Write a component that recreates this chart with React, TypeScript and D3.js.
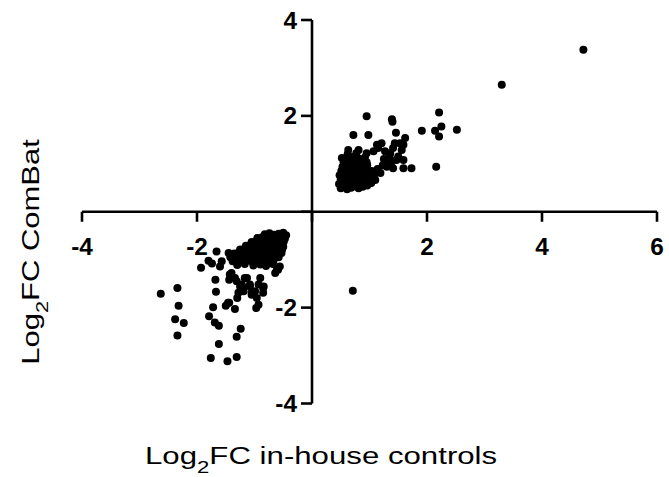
import React from "react";
import * as d3 from "d3";

// Log2FC in-house controls (x) vs Log2FC ComBat (y)
const upPoints: [number, number][] = [
  [0.5, 0.49], [0.56, 0.52], [0.61, 0.47], [0.68, 0.5], [0.74, 0.53], [0.81, 0.49], [0.88, 0.52], [0.96, 0.55],
  [0.47, 0.58], [0.54, 0.6], [0.59, 0.56], [0.66, 0.59], [0.72, 0.62], [0.79, 0.57], [0.86, 0.61], [0.93, 0.63], [1.03, 0.6],
  [0.5, 0.67], [0.57, 0.69], [0.63, 0.65], [0.7, 0.68], [0.77, 0.66], [0.84, 0.7], [0.92, 0.67], [1.01, 0.71], [1.1, 0.66],
  [0.48, 0.76], [0.55, 0.78], [0.61, 0.74], [0.68, 0.77], [0.75, 0.75], [0.82, 0.79], [0.9, 0.76], [0.99, 0.8], [1.08, 0.77], [1.19, 0.81],
  [0.51, 0.85], [0.58, 0.87], [0.65, 0.83], [0.73, 0.86], [0.81, 0.84], [0.91, 0.88], [1.04, 0.85], [1.14, 0.89],
  [0.53, 0.94], [0.6, 0.96], [0.67, 0.92], [0.77, 0.95], [0.87, 0.93], [0.96, 0.97], [1.23, 0.97],
  [0.55, 1.03], [0.63, 1.05], [0.71, 1.01], [0.84, 1.04], [0.95, 1.03], [1.29, 1.02],
  [0.52, 1.12], [0.6, 1.12], [0.7, 1.14], [0.81, 1.11], [0.92, 1.13], [1.25, 1.1],
  [0.62, 1.2], [0.77, 1.22], [1.07, 1.26], [1.35, 1.17],
  [0.63, 1.29], [0.81, 1.29], [0.95, 1.22], [1.15, 1.33], [1.13, 1.4], [1.21, 1.43], [1.27, 1.26],
  [1.36, 1.22], [1.41, 1.33], [1.44, 1.43], [1.53, 1.43], [1.59, 1.4], [1.62, 1.54], [1.56, 1.29],
  [1.5, 1.15], [1.59, 1.08], [1.39, 1.05], [1.3, 0.94], [1.41, 0.91], [1.59, 0.91], [1.73, 0.91],
  [1.47, 1.08], [2.16, 0.94], [0.72, 1.6], [0.98, 1.6], [1.46, 1.65], [1.91, 1.69], [2.14, 1.69],
  [2.25, 1.78], [2.21, 1.57], [2.52, 1.71], [0.95, 1.99], [1.39, 1.93], [1.4, 1.88], [2.21, 2.07],
  [3.3, 2.65], [4.72, 3.38],
];

const downPoints: [number, number][] = [
  [-0.82, -0.47], [-0.74, -0.45], [-0.66, -0.48], [-0.58, -0.46], [-0.5, -0.44], [-0.45, -0.49],
  [-0.95, -0.55], [-0.87, -0.53], [-0.79, -0.56], [-0.71, -0.54], [-0.63, -0.57], [-0.55, -0.53], [-0.47, -0.56],
  [-1.05, -0.63], [-0.97, -0.61], [-0.89, -0.64], [-0.81, -0.62], [-0.73, -0.65], [-0.65, -0.61], [-0.57, -0.64], [-0.49, -0.62],
  [-1.15, -0.71], [-1.07, -0.69], [-0.99, -0.72], [-0.91, -0.7], [-0.83, -0.73], [-0.75, -0.69], [-0.67, -0.72], [-0.59, -0.7], [-0.5, -0.73],
  [-1.25, -0.79], [-1.17, -0.77], [-1.09, -0.8], [-1.01, -0.78], [-0.93, -0.81], [-0.85, -0.77], [-0.77, -0.8], [-0.69, -0.78], [-0.61, -0.81], [-0.52, -0.79],
  [-1.35, -0.87], [-1.27, -0.85], [-1.19, -0.88], [-1.11, -0.86], [-1.03, -0.89], [-0.95, -0.85], [-0.87, -0.88], [-0.79, -0.86], [-0.71, -0.89], [-0.62, -0.87],
  [-1.42, -0.95], [-1.33, -0.93], [-1.24, -0.96], [-1.15, -0.94], [-1.06, -0.97], [-0.97, -0.93], [-0.88, -0.96], [-0.79, -0.94], [-0.7, -0.97], [-0.58, -0.95],
  [-1.38, -1.03], [-1.28, -1.01], [-1.18, -1.04], [-1.08, -1.02], [-0.98, -1.05], [-0.88, -1.01], [-0.78, -1.04], [-0.67, -1.02],
  [-1.3, -1.11], [-1.17, -1.09], [-1.02, -1.12], [-0.9, -1.1], [-0.8, -1.13], [-0.68, -1.09],
  [-0.76, -1.07], [-0.59, -1.21], [-0.64, -1.28], [-0.56, -1.14], [-0.53, -0.86], [-0.61, -1.21],
  [-1.43, -1.31], [-1.17, -1.38], [-1.22, -1.52], [-1.08, -1.56], [-0.93, -1.52], [-1.28, -1.69],
  [-1.05, -1.69], [-0.96, -1.8], [-0.85, -1.69], [-1.46, -1.9], [-1.4, -1.28], [-1.31, -1.45],
  [-1.25, -1.56], [-1.19, -1.66], [-1.08, -1.52], [-0.99, -1.66], [-1.13, -1.38], [-0.9, -1.38],
  [-0.84, -1.56], [-1.34, -1.38], [-1.2, -1.58], [-1.05, -1.73], [-0.93, -1.94], [-0.85, -1.59],
  [-2.63, -1.71], [-2.34, -1.59], [-2.32, -1.96], [-2.38, -2.24], [-2.23, -2.32],
  [-2.34, -2.58], [-1.93, -1.17], [-1.68, -1.42], [-1.67, -1.67], [-1.72, -1.99], [-1.79, -2.18],
  [-1.69, -2.31], [-1.62, -2.38], [-1.62, -2.76], [-1.76, -3.05], [-1.47, -3.12], [-1.31, -3.03],
  [-1.31, -2.61], [-1.24, -2.44], [-1.5, -1.96], [-1.44, -1.9], [-1.34, -2.03], [-1.3, -1.8],
  [-0.97, -2.01], [-1.44, -1.42], [-1.66, -0.83], [-1.8, -1.02], [-1.74, -1.08], [-1.6, -1.14],
  [-1.57, -1.03], [-1.45, -0.86],
];

const otherPoints: [number, number][] = [[0.71, -1.65]];

const xTicks = [-4, -2, 0, 2, 4, 6];
const yTicks = [-4, -2, 0, 2, 4];
const xTickLabels = ["-4", "-2", "", "2", "4", "6"];
const yTickLabels = ["-4", "-2", "", "2", "4"];

const W = 669;
const H = 477;
const font = "'Liberation Sans', Arial, sans-serif";

export default function App() {
  const x = d3.scaleLinear().domain([-4, 6]).range([82, 657]);
  const y = d3.scaleLinear().domain([-4, 4]).range([403.5, 20]);
  const x0 = x(0);
  const y0 = y(0);
  const all = [...upPoints, ...downPoints, ...otherPoints];

  return (
    <div style={{ position: "absolute", left: 0, top: 0 }}>
      <svg width={W} height={H} style={{ display: "block", background: "#fff" }}>
        {/* x axis */}
        <line x1={x(-4)} x2={x(6)} y1={y0} y2={y0} stroke="#000" strokeWidth={2.6} />
        {xTicks.map((t, i) => (
          <g key={"xt" + t}>
            <line x1={x(t)} x2={x(t)} y1={y0} y2={y0 + 10} stroke="#000" strokeWidth={2.6} />
            {xTickLabels[i] && (
              <text
                transform={`translate(${x(t)},254.5) scale(1.06,1)`}
                textAnchor="middle"
                fontFamily={font}
                fontWeight="bold"
                fontSize={23}
              >
                {xTickLabels[i]}
              </text>
            )}
          </g>
        ))}
        {/* y axis */}
        <line x1={x0} x2={x0} y1={y(-4)} y2={y(4)} stroke="#000" strokeWidth={2.6} />
        {yTicks.map((t, i) => (
          <g key={"yt" + t}>
            <line x1={x0 - 11} x2={x0} y1={y(t)} y2={y(t)} stroke="#000" strokeWidth={2.6} />
            {yTickLabels[i] && (
              <text
                transform={`translate(297,${y(t) + 8.5}) scale(1.06,1)`}
                textAnchor="end"
                fontFamily={font}
                fontWeight="bold"
                fontSize={23}
              >
                {yTickLabels[i]}
              </text>
            )}
          </g>
        ))}
        {/* points */}
        {all.map((d, i) => (
          <circle key={i} cx={x(d[0])} cy={y(d[1])} r={4} fill="#000" />
        ))}
        {/* titles */}
        <text transform="translate(145,464) scale(1.3,1)" fontFamily={font} fontSize={24}>
          Log
          <tspan fontSize={17} dy={9}>2</tspan>
          <tspan dy={-9}>FC in-house controls</tspan>
        </text>
        <text
          transform="translate(39,252) rotate(-90) scale(1.29,1)"
          textAnchor="middle"
          fontFamily={font}
          fontSize={24}
        >
          Log
          <tspan fontSize={17} dy={9}>2</tspan>
          <tspan dy={-9}>FC ComBat</tspan>
        </text>
      </svg>
    </div>
  );
}
